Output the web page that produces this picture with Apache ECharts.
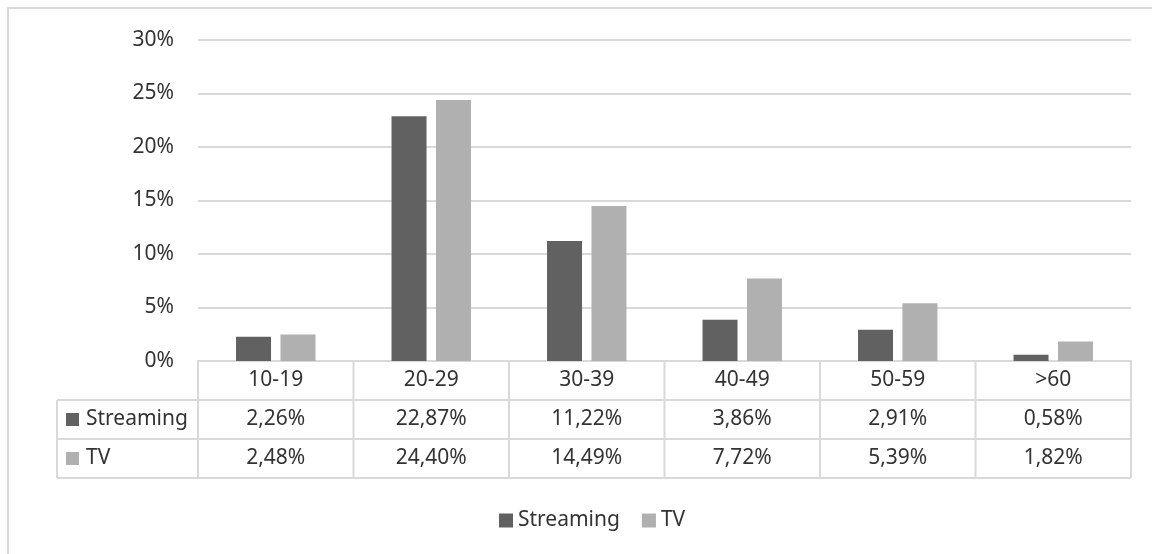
<!DOCTYPE html>
<html>
<head>
<meta charset="utf-8">
<script src="https://cdn.jsdelivr.net/npm/echarts@6/dist/echarts.min.js"></script>
<style>
  html, body { margin: 0; padding: 0; background: #fff; }
  #chart { width: 1152px; height: 554px; }
</style>
</head>
<body>
<div id="chart"></div>
<script>
const categories = ['10-19', '20-29', '30-39', '40-49', '50-59', '>60']
const streaming = [2.26, 22.87, 11.22, 3.86, 2.91, 0.58]
const tv = [2.48, 24.40, 14.49, 7.72, 5.39, 1.82]
const yTicks = [0, 5, 10, 15, 20, 25, 30]

// layout
const W = 1152, H = 554
const gridLeft = 198, gridRight = 1131, gridTop = 40, gridBottom = 361
const rowH = 39
const tableLeft = 57
const lineColor = '#d9d9d9'
const textColor = '#333333'
const font = '"Noto Sans", sans-serif'
const fs = 21
const colStreaming = '#616161'
const colTV = '#b0b0b0'

const fmt = v => v.toFixed(2).replace('.', ',') + '%'

const chart = echarts.init(document.getElementById('chart'))

// tabela de dados (linhas)
const cw = (gridRight - gridLeft) / categories.length
const tableLines = []
const hLine = (x1, y, x2) => tableLines.push({ type: 'line', shape: { x1, y1: y, x2, y2: y }, style: { stroke: lineColor, lineWidth: 2 }, silent: true })
const vLine = (x, y1, y2) => tableLines.push({ type: 'line', shape: { x1: x, y1, x2: x, y2 }, style: { stroke: lineColor, lineWidth: 2 }, silent: true })
hLine(tableLeft, gridBottom + rowH, gridRight)
hLine(tableLeft, gridBottom + rowH * 2, gridRight)
hLine(tableLeft, gridBottom + rowH * 3, gridRight)
vLine(tableLeft, gridBottom + rowH, gridBottom + rowH * 3)
for (let i = 0; i <= categories.length; i++) {
    vLine(gridLeft + i * cw, gridBottom, gridBottom + rowH * 3)
}
const rowLabel = (name, color, row) => {
    const cy = gridBottom + rowH * row + rowH / 2
    tableLines.push({ type: 'rect', shape: { x: 66, y: cy - 6.5, width: 13, height: 13 }, style: { fill: color }, silent: true })
    tableLines.push({ type: 'text', x: 86, y: cy, style: { text: name, fill: textColor, font: fs + 'px ' + font, verticalAlign: 'middle' }, silent: true })
}
rowLabel('Streaming', colStreaming, 1)
rowLabel('TV', colTV, 2)

const option = {
    animation: false,
    textStyle: { fontFamily: font },
    grid: { left: gridLeft, right: W - gridRight, top: gridTop, bottom: H - gridBottom },
    legend: {
        left: 494,
        top: 505,
        itemWidth: 14,
        itemHeight: 14,
        itemGap: 22,
        icon: 'rect',
        textStyle: { fontSize: fs, color: textColor, fontFamily: font, padding: [0, 0, 0, 0] },
        data: ['Streaming', 'TV']
    },
    xAxis: [
        {
            type: 'category',
            data: categories,
            position: 'bottom',
            axisLine: { lineStyle: { color: lineColor, width: 2 } },
            axisTick: { show: false },
            axisLabel: { color: textColor, fontSize: fs, margin: 9, fontFamily: font }
        },
        {
            type: 'category',
            data: categories,
            position: 'bottom',
            offset: rowH,
            axisLine: { show: false },
            axisTick: { show: false },
            axisLabel: { color: textColor, fontSize: fs, margin: 9, fontFamily: font, formatter: (v, i) => fmt(streaming[i]) }
        },
        {
            type: 'category',
            data: categories,
            position: 'bottom',
            offset: rowH * 2,
            axisLine: { show: false },
            axisTick: { show: false },
            axisLabel: { color: textColor, fontSize: fs, margin: 9, fontFamily: font, formatter: (v, i) => fmt(tv[i]) }
        }
    ],
    yAxis: {
        type: 'value',
        min: yTicks[0],
        max: yTicks[yTicks.length - 1],
        interval: 5,
        axisLine: { show: false },
        axisTick: { show: false },
        axisLabel: { color: textColor, fontSize: fs, margin: 24, fontFamily: font, formatter: '{value}%' },
        splitLine: { lineStyle: { color: lineColor, width: 2 } }
    },
    series: [
        {
            name: 'Streaming',
            type: 'bar',
            data: streaming,
            barWidth: 35,
            barGap: '27%',
            itemStyle: { color: colStreaming }
        },
        {
            name: 'TV',
            type: 'bar',
            data: tv,
            barWidth: 35,
            barGap: '27%',
            itemStyle: { color: colTV }
        }
    ],
    graphic: [
        { type: 'rect', shape: { x: 8, y: 8, width: W + 40, height: H + 40 }, style: { fill: null, stroke: lineColor, lineWidth: 2 }, silent: true, z: -1 }
    ].concat(tableLines)
}
chart.setOption(option)
</script>
</body>
</html>
